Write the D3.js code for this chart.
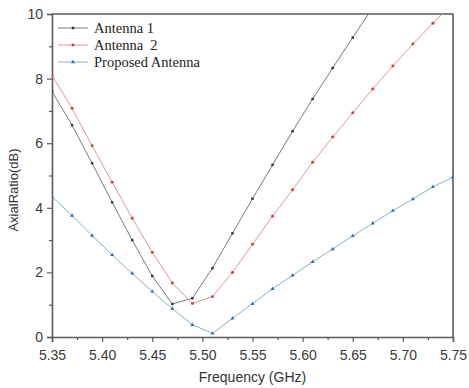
<!DOCTYPE html>
<html>
<head>
<meta charset="utf-8">
<script src="https://cdn.jsdelivr.net/npm/d3@7"></script>
<style>
  html,body{margin:0;padding:0;background:#fff;}
  svg{display:block;}
  .tick text{font-family:"Liberation Sans",Arial,sans-serif;font-size:14px;fill:#3a3a3a;}
</style>
</head>
<body>
<svg id="chart" width="469" height="388"></svg>
<script>
// ── data (frequency in GHz, axial ratio in dB) ──
const freqA1=[5.35,5.37,5.39,5.41,5.43,5.45,5.47,5.49,5.51,5.53,5.55,5.57,5.59,5.61,5.63,5.65,5.67];
const arA1  =[7.6,6.56,5.38,4.17,3.0,1.89,1.02,1.2,2.13,3.21,4.28,5.33,6.37,7.37,8.33,9.27,10.2];
const freqA2=[5.35,5.37,5.39,5.41,5.43,5.45,5.47,5.49,5.51,5.53,5.55,5.57,5.59,5.61,5.63,5.65,5.67,5.69,5.71,5.73,5.75];
const arA2  =[8.1,7.08,5.92,4.79,3.68,2.62,1.67,1.04,1.25,2.0,2.87,3.74,4.56,5.41,6.19,6.94,7.68,8.39,9.07,9.71,10.35];
const freqP =[5.35,5.37,5.39,5.41,5.43,5.45,5.47,5.49,5.51,5.53,5.55,5.57,5.59,5.61,5.63,5.65,5.67,5.69,5.71,5.73,5.75];
const arP   =[4.34,3.76,3.14,2.54,1.97,1.41,0.88,0.38,0.11,0.58,1.03,1.49,1.91,2.33,2.72,3.13,3.52,3.91,4.27,4.65,4.95];
const seriesNames=["Antenna 1","Antenna  2","Proposed Antenna"];
const xTicks=[5.35,5.40,5.45,5.50,5.55,5.60,5.65,5.70,5.75];
const yTicks=[0,2,4,6,8,10];

const series=[
  {name:seriesNames[0],xs:freqA1,ys:arA1,line:"#7a7a7a",mark:"#333",sym:d3.symbolSquare,sz:6},
  {name:seriesNames[1],xs:freqA2,ys:arA2,line:"#d99a9a",mark:"#d43c3c",sym:d3.symbolCircle,sz:7},
  {name:seriesNames[2],xs:freqP, ys:arP, line:"#82b4c4",mark:"#2f6db3",sym:d3.symbolTriangle,sz:7},
];

const svg=d3.select("#chart");
const L=52,R=453,T=14,B=337;
const x=d3.scaleLinear().domain([5.35,5.75]).range([L,R]);
const y=d3.scaleLinear().domain([0,10]).range([B,T]);

svg.append("defs").append("clipPath").attr("id","clip")
  .append("rect").attr("x",L).attr("y",T).attr("width",R-L).attr("height",B-T);

// ── axes: major + minor ticks outward ──
const axCol="#5a5a5a";
const gx=svg.append("g").attr("transform",`translate(0,${B})`)
  .call(d3.axisBottom(x).tickValues(xTicks).tickFormat(d3.format(".2f")).tickSize(5).tickPadding(5));
svg.append("g").attr("transform",`translate(0,${B})`)
  .call(d3.axisBottom(x).tickValues(d3.range(5.375,5.75,0.05)).tickFormat("").tickSize(3))
  .call(g=>g.select(".domain").remove());
const gy=svg.append("g").attr("transform",`translate(${L},0)`)
  .call(d3.axisLeft(y).tickValues(yTicks).tickSize(5).tickPadding(4));
svg.append("g").attr("transform",`translate(${L},0)`)
  .call(d3.axisLeft(y).tickValues([1,3,5,7,9]).tickFormat("").tickSize(3))
  .call(g=>g.select(".domain").remove());
svg.selectAll(".domain").attr("stroke",axCol).attr("stroke-width",1.6);
svg.selectAll(".tick line").attr("stroke",axCol).attr("stroke-width",1.2);
gx.selectAll(".tick text").attr("dy","0.9em");

// frame top/right
svg.append("path").attr("d",`M${L},${T}H${R}V${B}`).attr("fill","none")
  .attr("stroke",axCol).attr("stroke-width",1.6);

// ── lines + markers ──
const plot=svg.append("g").attr("clip-path","url(#clip)");
const line=d3.line().x(d=>x(d[0])).y(d=>y(d[1]));
series.forEach(s=>{
  const pts=s.xs.map((v,i)=>[v,s.ys[i]]);
  plot.append("path").datum(pts).attr("d",line).attr("fill","none")
    .attr("stroke",s.line).attr("stroke-width",1);
  plot.selectAll(null).data(pts).join("path")
    .attr("transform",d=>`translate(${x(d[0])},${y(d[1])})`)
    .attr("d",d3.symbol(s.sym,s.sz)).attr("fill",s.mark);
});

// ── legend ──
const lg=svg.append("g").attr("transform","translate(58,28)");
series.forEach((s,i)=>{
  const g=lg.append("g").attr("transform",`translate(0,${i*17})`);
  g.append("line").attr("x1",0).attr("x2",30).attr("stroke",s.line).attr("stroke-width",1);
  g.append("path").attr("transform","translate(15,0)").attr("d",d3.symbol(s.sym,s.sz)).attr("fill",s.mark);
  g.append("text").attr("x",36).attr("dy","0.35em")
    .attr("font-family","'Liberation Serif','Times New Roman',serif").attr("font-size",14.5)
    .attr("fill","#222").style("white-space","pre").text(s.name);
});

// ── axis titles ──
svg.append("text").attr("x",(L+R)/2).attr("y",382).attr("text-anchor","middle")
  .attr("font-family","'Liberation Sans',Arial,sans-serif").attr("font-size",14).attr("fill","#333")
  .text("Frequency (GHz)");
svg.append("text").attr("transform","translate(18,190) rotate(-90)").attr("text-anchor","middle")
  .attr("font-family","'Liberation Sans',Arial,sans-serif").attr("font-size",13).attr("fill","#333")
  .text("AxialRatio(dB)");
</script>
</body>
</html>
